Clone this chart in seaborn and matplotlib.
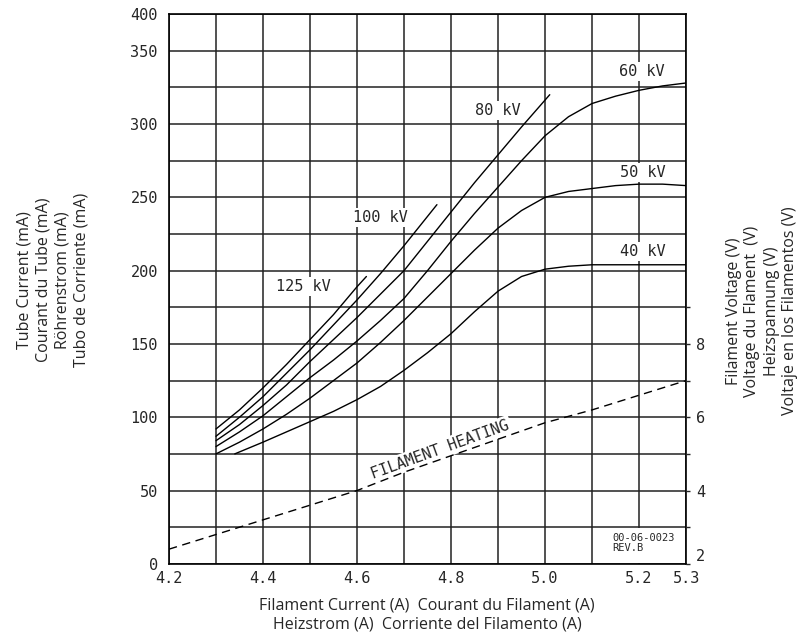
import matplotlib
matplotlib.use('Agg')
import matplotlib.pyplot as plt
import pandas as pd
import seaborn as sns
from matplotlib.patches import Rectangle
from matplotlib.ticker import FixedLocator

# tube current curves (filament current A -> tube current mA)
amps_125 = [4.30, 4.35, 4.40, 4.45, 4.50, 4.55, 4.60, 4.62]
ma_125 = [92, 105, 120, 136, 153, 170, 189, 196]

amps_100 = [4.30, 4.35, 4.40, 4.45, 4.50, 4.55, 4.60, 4.65, 4.70, 4.75, 4.77]
ma_100 = [87, 100, 114, 130, 146, 163, 180, 198, 217, 237, 245]

amps_80 = [4.30, 4.35, 4.40, 4.45, 4.50, 4.55, 4.60, 4.65, 4.70, 4.75, 4.80, 4.85, 4.90, 4.95, 5.01]
ma_80 = [84, 95, 108, 122, 138, 153, 168, 184, 200, 220, 240, 260, 279, 298, 320]

amps_60 = [4.30, 4.35, 4.40, 4.45, 4.50, 4.55, 4.60, 4.65, 4.70, 4.75, 4.80,
           4.85, 4.90, 4.95, 5.00, 5.05, 5.10, 5.15, 5.20, 5.25, 5.30]
ma_60 = [80, 90, 101, 114, 127, 139, 152, 166, 181, 200, 220,
         239, 257, 275, 292, 305, 314, 319, 323, 326, 328]

amps_50 = [4.30, 4.35, 4.40, 4.45, 4.50, 4.55, 4.60, 4.65, 4.70, 4.75, 4.80,
           4.85, 4.90, 4.95, 5.00, 5.05, 5.10, 5.15, 5.20, 5.25, 5.30]
ma_50 = [75, 83, 92, 102, 113, 125, 137, 151, 166, 182, 198,
         214, 229, 241, 250, 254, 256, 258, 259, 259, 258]

amps_40 = [4.34, 4.40, 4.45, 4.50, 4.55, 4.60, 4.65, 4.70, 4.75, 4.80, 4.85,
           4.90, 4.95, 5.00, 5.05, 5.10, 5.20, 5.30]
ma_40 = [75, 83, 90, 97, 104, 112, 121, 132, 144, 157, 172,
         186, 196, 201, 203, 204, 204, 204]

kv_names = ['125 kV', '100 kV', '80 kV', '60 kV', '50 kV', '40 kV']

# filament heating (right axis, volts)
heat_amps = [4.2, 4.3, 4.4, 4.5, 4.6, 4.7, 4.8, 4.9, 5.0, 5.1, 5.2, 5.3]
heat_volts = [2.4, 2.8, 3.2, 3.6, 4.0, 4.5, 4.95, 5.4, 5.85, 6.2, 6.6, 7.0]

x_ticks = [4.2, 4.4, 4.6, 4.8, 5.0, 5.2, 5.3]
x_tick_labels = ['4.2', '4.4', '4.6', '4.8', '5.0', '5.2', '5.3']
x_minor = [4.3, 4.5, 4.7, 4.9, 5.1]
y_ticks = [0, 50, 100, 150, 200, 250, 300, 350, 375]
y_tick_labels = ['0', '50', '100', '150', '200', '250', '300', '350', '400']
y_minor = [25, 75, 125, 175, 225, 275, 325]
v_ticks = [2, 4, 6, 8]
v_minor = [3, 5, 7, 9]

curves = pd.concat([
    pd.DataFrame({'amps': a, 'ma': m, 'kv': k})
    for a, m, k in zip([amps_125, amps_100, amps_80, amps_60, amps_50, amps_40],
                       [ma_125, ma_100, ma_80, ma_60, ma_50, ma_40], kv_names)
])

sns.set_style('white')
mono = 'DejaVu Sans Mono'
title_font = 'Open Sans'

fig, ax = plt.subplots(figsize=(8.1, 6.4), dpi=100)
fig.subplots_adjust(left=0.2086, right=0.847, bottom=0.119, top=0.978)

sns.lineplot(data=curves, x='amps', y='ma', hue='kv', units='kv', estimator=None,
             sort=False, palette={k: 'black' for k in kv_names}, legend=False,
             linewidth=1.0, ax=ax)

ax.set_xlim(4.2, 5.3)
ax.set_ylim(0, 375)
ax.set_xticks(x_ticks)
ax.set_xticklabels(x_tick_labels, fontfamily=mono, fontsize=11)
ax.xaxis.set_minor_locator(FixedLocator(x_minor))
ax.set_yticks(y_ticks)
ax.set_yticklabels(y_tick_labels, fontfamily=mono, fontsize=11)
ax.yaxis.set_minor_locator(FixedLocator(y_minor))
ax.tick_params(which='both', length=0)
ax.tick_params(axis='y', pad=8)
ax.tick_params(axis='x', pad=5)
ax.set_axisbelow(True)
ax.grid(which='both', color='#222222', linewidth=1.1)
ax.set_xlabel('')
ax.set_ylabel('')
for s in ax.spines.values():
    s.set_color('black')
    s.set_linewidth(1.2)

# blank cell for the drawing number
ax.add_patch(Rectangle((5.104, 0.4), 0.193, 24.2, facecolor='white', edgecolor='none', zorder=1))
ax.text(5.143, 21, '00-06-0023\nREV.B', fontfamily=mono, fontsize=7.5, ha='left', va='top',
        linespacing=1.05)

box = dict(facecolor='white', edgecolor='none', pad=1.5)
kv_label_pos = [(4.485, 189), (4.649, 236), (4.900, 309), (5.206, 336), (5.208, 267), (5.208, 213)]
for name, (lx, ly) in zip(kv_names, kv_label_pos):
    ax.text(lx, ly, name, fontfamily=mono, fontsize=11, ha='center', va='center', bbox=box, zorder=3)

ax.text(4.777, 78, 'FILAMENT HEATING', fontfamily=mono, fontsize=11, rotation=20,
        rotation_mode='anchor', ha='center', va='center', bbox=box, zorder=3)

ax2 = ax.twinx()
sns.lineplot(x=heat_amps, y=heat_volts, color='black', linewidth=1.0, ax=ax2)
ax2.lines[0].set_dashes((6, 4))
ax2.set_ylim(2, 17)
ax2.set_yticks(v_ticks)
ax2.set_yticklabels([str(v) for v in v_ticks], fontfamily=mono, fontsize=11)
ax2.yaxis.set_minor_locator(FixedLocator(v_minor))
ax2.tick_params(axis='y', which='both', direction='out', length=3, width=1, pad=4)
ax2.get_yticklabels()[0].set_va('bottom')
for s in ax2.spines.values():
    s.set_visible(False)

fig.text(53 / 810, 1 - 280 / 640,
         'Tube Current (mA)\nCourant du Tube (mA)\nRöhrenstrom (mA)\nTubo de Corriente (mA)',
         rotation=90, ha='center', va='center', multialignment='center',
         fontfamily=title_font, fontsize=11.5, linespacing=1.25)
fig.text(762 / 810, 1 - 311 / 640,
         'Filament Voltage (V)\nVoltage du Flament  (V)\nHeizspannung (V)\nVoltaje en los Filamentos (V)',
         rotation=90, ha='center', va='center', multialignment='center',
         fontfamily=title_font, fontsize=11.5, linespacing=1.25)
fig.text(427 / 810, 1 - 615 / 640,
         'Filament Current (A)  Courant du Filament (A)\nHeizstrom (A)  Corriente del Filamento (A)',
         ha='center', va='center', multialignment='center',
         fontfamily=title_font, fontsize=11.5, linespacing=1.3)

fig.savefig('out.png', dpi=100)
